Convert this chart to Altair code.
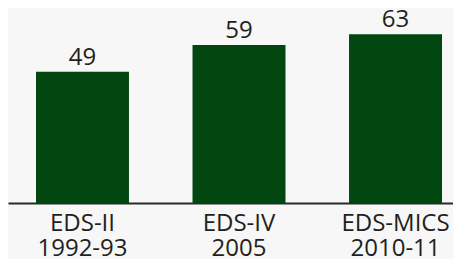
import altair as alt
import pandas as pd

surveys = ["EDS-II|1992-93", "EDS-IV|2005", "EDS-MICS|2010-11"]
values = [49, 59, 63]

df = pd.DataFrame({"survey": surveys, "value": values})

FONT = "Open Sans"
TEXT = "#231f20"

x = alt.X(
    "survey:N",
    sort=surveys,
    scale=alt.Scale(paddingInner=0.406, paddingOuter=0.1246, align=0.718),
    axis=alt.Axis(
        title=None,
        labelAngle=0,
        ticks=False,
        tickSize=0,
        domainColor="#2b2b2b",
        domainWidth=2,
        labelFont=FONT,
        labelFontSize=24,
        labelColor=TEXT,
        labelPadding=8,
        labelLineHeight=25,
        labelBaseline="top",
        labelExpr="split(datum.label, '|')",
    ),
)
y = alt.Y("value:Q", scale=alt.Scale(domain=[0, 72.8]), axis=None)

base = alt.Chart(df).encode(x=x, y=y)
bars = base.mark_bar(color="#02470f")
labels = base.mark_text(dy=-7, baseline="alphabetic", fontSize=24, font=FONT, color=TEXT).encode(
    text="value:Q"
)

chart = (
    alt.layer(bars, labels)
    .properties(
        width=445,
        height=195,
        padding={"left": 0, "top": 0, "right": 0, "bottom": 56},
        autosize=alt.AutoSizeParams(type="none"),
        background="#f6f7f6",
    )
    .configure_view(stroke=None)
)

chart.save("out.html", embed_options={"renderer": "svg", "actions": False})
